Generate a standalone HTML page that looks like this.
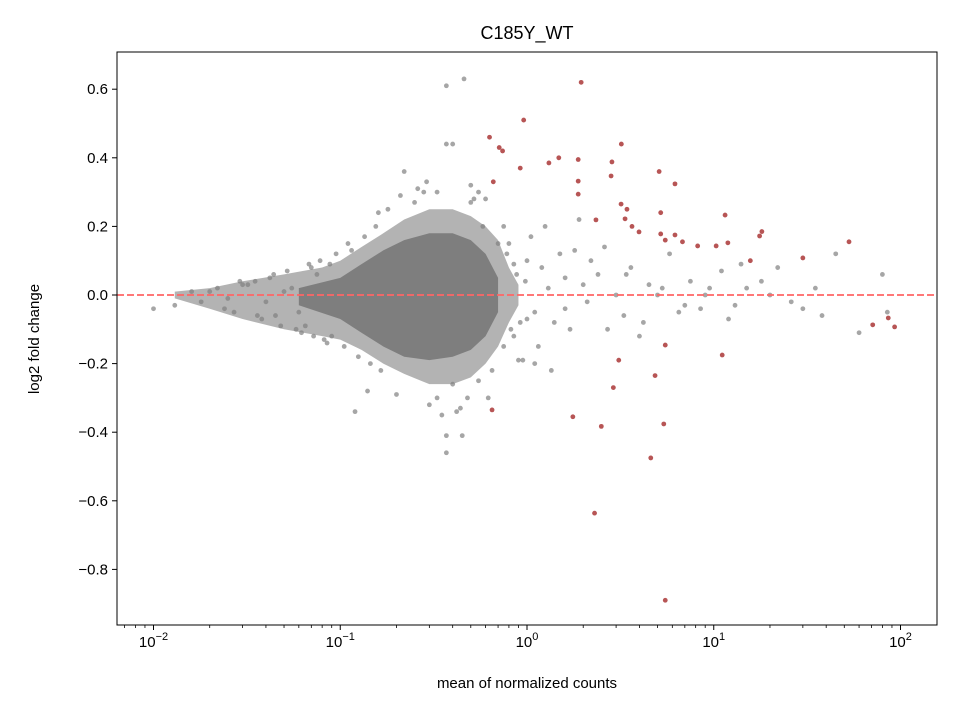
<!DOCTYPE html>
<html><head><meta charset="utf-8"><style>
body{margin:0;background:#fff;width:960px;height:720px;overflow:hidden}
svg{font-family:"Liberation Sans","DejaVu Sans",sans-serif}
</style></head><body>
<svg id="chart" width="960" height="720"></svg>
<script>
// Red (significant) points: mean counts, log2 fold change
const sigMean=[1.95,0.96,0.63,0.71,0.74,0.92,0.66,1.31,1.48,1.88,2.85,3.2,2.82,1.88,1.88,3.19,2.34,3.43,3.35,3.65,3.98,5.1,6.2,5.2,5.2,6.2,5.5,6.8,8.2,10.3,11.5,11.9,15.7,17.6,18.1,30,53,71,86,93,3.1,2.9,5.5,11.1,0.65,1.76,2.5,4.85,5.4,4.6,2.3,5.5];
const sigLfc=[0.62,0.51,0.46,0.43,0.42,0.37,0.33,0.385,0.40,0.395,0.388,0.44,0.347,0.332,0.294,0.265,0.219,0.25,0.222,0.20,0.184,0.36,0.324,0.24,0.178,0.175,0.16,0.155,0.143,0.143,0.233,0.152,0.10,0.172,0.185,0.108,0.155,-0.087,-0.067,-0.093,-0.19,-0.27,-0.146,-0.175,-0.335,-0.355,-0.383,-0.235,-0.376,-0.475,-0.636,-0.89];
// Outer (sparse) cloud envelope
const outMean=[0.013,0.02,0.03,0.05,0.08,0.1,0.13,0.17,0.22,0.3,0.4,0.5,0.6,0.7,0.8,0.9];
const outHi=[0.01,0.02,0.04,0.06,0.08,0.1,0.14,0.18,0.22,0.25,0.25,0.23,0.2,0.16,0.08,0.03];
const outLo=[-0.01,-0.04,-0.07,-0.1,-0.12,-0.13,-0.16,-0.2,-0.23,-0.26,-0.26,-0.24,-0.2,-0.15,-0.08,-0.03];
// Inner (dense) cloud envelope
const envMean=[0.06,0.1,0.13,0.17,0.22,0.3,0.4,0.5,0.6,0.7];
const envHi=[0.02,0.05,0.09,0.13,0.16,0.18,0.18,0.16,0.12,0.05];
const envLo=[-0.03,-0.07,-0.11,-0.15,-0.18,-0.19,-0.18,-0.16,-0.12,-0.05];
// Scattered grey points
const nsMean=[0.37,0.46,0.37,0.4,0.22,0.01,0.013,0.12,0.37,0.37,0.45,0.2,0.29,0.33,0.25,0.18,0.16,0.14,0.5,0.55,0.6,0.62,0.75,0.8,0.85,0.9,1.0,1.1,1.2,1.3,1.4,1.5,1.6,1.7,1.9,2.1,2.4,2.6,3.0,3.3,3.6,4.0,4.5,5.0,5.8,6.5,7.5,8.5,9.5,11,13,15,18,22,26,35,38,45,60,80,85,1.05,1.15,1.25,1.6,2.0,2.2,2.7,3.4,4.2,5.3,7,9,12,14,20,30,0.95,1.1,1.35,1.8,0.85,1.0,0.03,0.04,0.05,0.06,0.07,0.09,0.02,0.025,0.035,0.045,0.055,0.065,0.075,0.085,0.3,0.35,0.28,0.42,0.5,0.55,0.48,0.52,0.33,0.26,0.21,0.4,0.44,0.58,0.65,0.7,0.75,0.016,0.018,0.022,0.027,0.032,0.038,0.042,0.048,0.052,0.058,0.068,0.072,0.078,0.082,0.095,0.11,0.024,0.029,0.036,0.044,0.062,0.088,0.105,0.115,0.125,0.135,0.145,0.155,0.165,0.78,0.82,0.88,0.92,0.98];
const nsLfc=[0.61,0.63,0.44,0.44,0.36,-0.04,-0.03,-0.34,-0.41,-0.46,-0.41,-0.29,0.33,0.3,0.27,0.25,0.24,-0.28,0.32,0.3,0.28,-0.3,0.2,0.15,-0.12,-0.19,0.1,-0.05,0.08,0.02,-0.08,0.12,0.05,-0.1,0.22,-0.02,0.06,0.14,0.0,-0.06,0.08,-0.12,0.03,0.0,0.12,-0.05,0.04,-0.04,0.02,0.07,-0.03,0.02,0.04,0.08,-0.02,0.02,-0.06,0.12,-0.11,0.06,-0.05,0.17,-0.15,0.2,-0.04,0.03,0.1,-0.1,0.06,-0.08,0.02,-0.03,0.0,-0.07,0.09,0.0,-0.04,-0.19,-0.2,-0.22,0.13,0.09,-0.07,0.03,-0.02,0.01,-0.05,0.08,-0.12,0.01,-0.01,0.04,-0.06,0.02,-0.09,0.06,-0.14,-0.32,-0.35,0.3,-0.34,0.27,-0.25,-0.3,0.28,-0.3,0.31,0.29,-0.26,-0.33,0.2,-0.22,0.15,-0.15,0.01,-0.02,0.02,-0.05,0.03,-0.07,0.05,-0.09,0.07,-0.1,0.09,-0.12,0.1,-0.13,0.12,0.15,-0.04,0.04,-0.06,0.06,-0.11,0.09,-0.15,0.13,-0.18,0.17,-0.2,0.2,-0.22,0.12,-0.1,0.06,-0.08,0.04];
const xTicks=[-2,-1,0,1,2];
const yTicks=[0.6,0.4,0.2,0.0,-0.2,-0.4,-0.6,-0.8];

const NS='http://www.w3.org/2000/svg';
const svg=document.getElementById('chart');
const L=117,T=52,W=820,H=573;
function xs(v){return 527+Math.log10(v)*186.75;}
function ys(v){return 295-v*343;}
function mk(tag,attrs,parent){const e=document.createElementNS(NS,tag);for(const k in attrs)e.setAttribute(k,attrs[k]);(parent||svg).appendChild(e);return e;}
function env(xm,hi,lo){let p=[];for(let i=0;i<xm.length;i++)p.push(xs(xm[i])+','+ys(hi[i]));for(let i=xm.length-1;i>=0;i--)p.push(xs(xm[i])+','+ys(lo[i]));return p.join(' ');}

const clip=mk('clipPath',{id:'pc'});mk('rect',{x:L,y:T,width:W,height:H},clip);
const g=mk('g',{'clip-path':'url(#pc)'});



const outer=mk('polygon',{points:env(outMean,outHi,outLo),fill:'#808080','fill-opacity':0.6},g);


const inner=mk('polygon',{points:env(envMean,envHi,envLo),fill:'#707070','fill-opacity':0.8},g);



for(let i=0;i<nsMean.length;i++){
  const c=mk('circle',{cx:xs(nsMean[i]),cy:ys(nsLfc[i]),r:2.4,fill:'#808080','fill-opacity':0.7},g);
  
  
}
const zl=mk('line',{x1:L,x2:L+W,y1:ys(0),y2:ys(0),stroke:'#ff6666','stroke-width':1.8,'stroke-dasharray':'7,3'},g);


for(let i=0;i<sigMean.length;i++){
  const c=mk('circle',{cx:xs(sigMean[i]),cy:ys(sigLfc[i]),r:2.4,fill:'#a52a2a','fill-opacity':0.8},g);
  
  
}
const fr=mk('rect',{x:L,y:T,width:W,height:H,fill:'none',stroke:'#000','stroke-width':1});



for(const p of xTicks){
  const x=527+p*186.75;
  mk('line',{x1:x,x2:x,y1:T+H,y2:T+H+5,stroke:'#000'});
  const t=mk('text',{x:x,y:T+H+22,'text-anchor':'middle','font-size':15});
  t.innerHTML='10<tspan dy="-7" font-size="11">'+(p<0?'−'+(-p):p)+'</tspan>';
  
  
}
for(let d=-3;d<=2;d++)for(let m=2;m<=9;m++){
  const x=527+(d+Math.log10(m))*186.75;
  if(x>L&&x<L+W)mk('line',{x1:x,x2:x,y1:T+H,y2:T+H+3,stroke:'#000','stroke-width':0.8});
}
for(const v of yTicks){
  const y=ys(v);
  mk('line',{x1:L-5,x2:L,y1:y,y2:y,stroke:'#000'});
  const t=mk('text',{x:L-9,y:y+5,'text-anchor':'end','font-size':15});
  t.textContent=(v<0?'−':'')+Math.abs(v).toFixed(1);
  
  
}
const ti=mk('text',{x:527,y:39,'text-anchor':'middle','font-size':18});ti.textContent='C185Y_WT';


const xl=mk('text',{x:527,y:688,'text-anchor':'middle','font-size':15});xl.textContent='mean of normalized counts';


const yl=mk('text',{x:0,y:0,'text-anchor':'middle','font-size':15,transform:'translate(39,339) rotate(-90)'});yl.textContent='log2 fold change';


</script>
</body></html>
